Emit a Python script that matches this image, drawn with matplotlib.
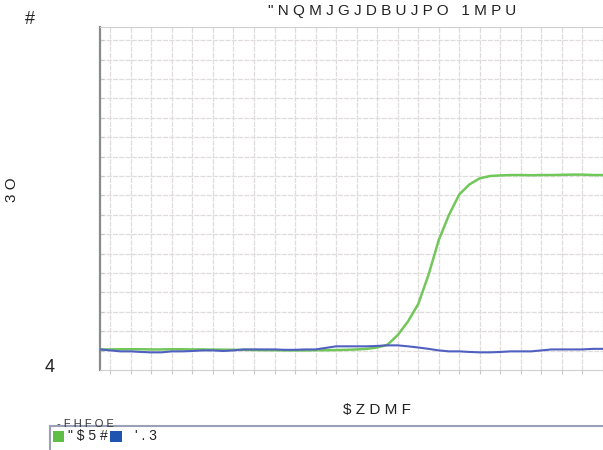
import numpy as np
import matplotlib
matplotlib.use("Agg")
import matplotlib.pyplot as plt
from matplotlib.patches import Rectangle
from matplotlib.lines import Line2D

plt.rcParams['font.family'] = ['Liberation Sans', 'DejaVu Sans']

cycles = list(range(1, 51))
actb = [1.06, 1.06, 1.07, 1.07, 1.07, 1.06, 1.06, 1.07, 1.07, 1.06,
        1.06, 1.05, 1.05, 1.04, 1.04, 1.03, 1.02, 1.02, 1.01, 1.01,
        1.01, 1.02, 1.02, 1.03, 1.04, 1.06, 1.09, 1.16, 1.30, 1.80,
        2.50, 3.40, 4.90, 6.70, 8.00, 9.05, 9.57, 9.88, 10.00, 10.03,
        10.05, 10.05, 10.04, 10.05, 10.05, 10.06, 10.07, 10.07, 10.05, 10.05]
fmr = [1.06, 1.01, 0.96, 0.96, 0.93, 0.91, 0.91, 0.96, 0.96, 0.98,
       1.01, 1.01, 0.98, 1.01, 1.06, 1.06, 1.06, 1.06, 1.04, 1.04,
       1.06, 1.06, 1.14, 1.22, 1.22, 1.22, 1.22, 1.24, 1.27, 1.27,
       1.22, 1.16, 1.09, 1.01, 0.96, 0.96, 0.93, 0.91, 0.91, 0.93,
       0.96, 0.96, 0.96, 1.01, 1.06, 1.06, 1.06, 1.06, 1.09, 1.09]

title = '"NQMJGJDBUJPO 1MPU'
xlabel = '$ZDMF'
ylabel = '3O'
ytop = '#'
ybottom = '4'
legend_title = '-FHFOE'
series_names = ['"$5#', "'.3"]
colors = ['#72c75a', '#5060c0']
legend_colors = ['#5fbf45', '#1f55b0']

def spaced(s):
    return ' '.join(s)

fig = plt.figure(figsize=(6.03, 4.5), dpi=100)
ax = fig.add_axes([100/603, 1 - 370/450, 1 - 100/603, 343/450])

ax.plot(cycles, actb, color=colors[0], lw=1.8, zorder=3)
ax.plot(cycles, fmr, color=colors[1], lw=1.5, zorder=3)

ax.set_xlim(1, 50)
ax.set_ylim(0, 17.68)
ax.set_xticks(np.arange(2, 51, 2))
ax.set_yticks(np.arange(1, 18, 1))
ax.tick_params(axis='x', direction='out', length=3, color='#c8c8c8', labelbottom=False)
ax.tick_params(axis='y', direction='in', length=3, color='#c8c8c8', labelleft=False)
ax.grid(True, color='#e0dcdc', lw=0.9, ls=(0, (4, 1)))
ax.set_axisbelow(True)
ax.spines['right'].set_visible(False)
ax.spines['left'].set_color('#8a8a8a')
ax.spines['left'].set_linewidth(1.6)
ax.spines['top'].set_color('#cfcfcf')
ax.spines['bottom'].set_color('#cfcfcf')

fig.text(392/603, 1 - 11/450, spaced(title), ha='center', va='center', fontsize=11, color='#222222')
fig.text(30/603, 1 - 19/450, ytop, ha='center', va='center', fontsize=13, color='#222222')
fig.text(50/603, 1 - 368/450, ybottom, ha='center', va='center', fontsize=13, color='#222222')
fig.text(12/603, 1 - 190/450, spaced(ylabel), ha='center', va='center', fontsize=11, rotation=90, color='#222222')
fig.text(377/603, 1 - 410/450, spaced(xlabel), ha='center', va='center', fontsize=11, color='#222222')

# legend box
fig.add_artist(Line2D([50/603, 1.0], [1 - 426/450, 1 - 426/450], transform=fig.transFigure,
                      color='#9aa0b8', lw=1.5))
fig.add_artist(Line2D([50/603, 50/603], [1 - 426/450, 0], transform=fig.transFigure,
                      color='#9aa0b8', lw=1.5))
fig.text(57/603, 1 - 424/450, spaced(legend_title), ha='left', va='center', fontsize=8,
         color='#333333', zorder=5)
fig.add_artist(Rectangle((53/603, 1 - 442/450), 11/603, 11/450, transform=fig.transFigure,
                         facecolor=legend_colors[0], edgecolor='none'))
fig.text(68/603, 1 - 436/450, spaced(series_names[0]), ha='left', va='center', fontsize=10, color='#222222')
fig.add_artist(Rectangle((110/603, 1 - 442/450), 12/603, 11/450, transform=fig.transFigure,
                         facecolor=legend_colors[1], edgecolor='none'))
fig.text(135/603, 1 - 436/450, spaced(series_names[1]), ha='left', va='center', fontsize=10, color='#222222')

fig.savefig('out.png', dpi=100)
